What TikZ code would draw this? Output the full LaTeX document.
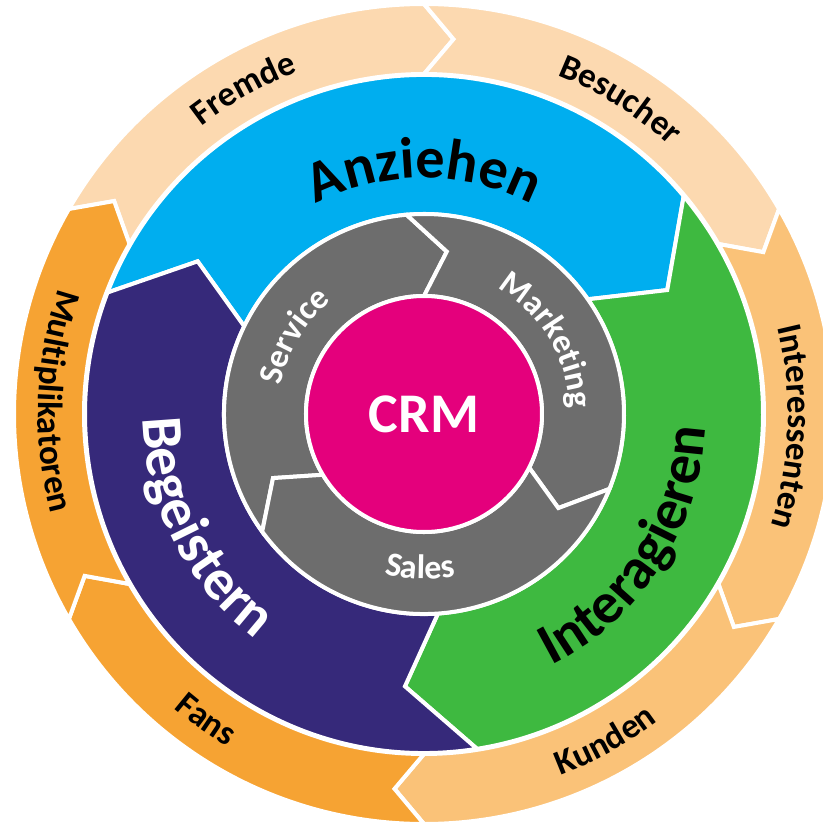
\documentclass[tikz,border=0pt]{standalone}
\usepackage{fontspec}
\setmainfont{Carlito}
\usetikzlibrary{decorations.text}
\definecolor{peachlight}{RGB}{252,217,176}
\definecolor{peachmid}{RGB}{250,194,120}
\definecolor{peachdark}{RGB}{246,163,51}
\definecolor{crmblue}{RGB}{0,174,239}
\definecolor{crmgreen}{RGB}{62,185,64}
\definecolor{crmpurple}{RGB}{54,41,122}
\definecolor{crmgray}{RGB}{109,109,109}
\definecolor{crmmagenta}{RGB}{228,0,124}
\newcommand{\outerfont}{\fontsize{35}{40}\selectfont\bfseries}
\newcommand{\midfont}{\fontsize{58}{64}\selectfont\bfseries}
\newcommand{\grayfont}{\fontsize{34}{40}\selectfont\bfseries}
% colour, start, end, inner r, outer r, tip r, tip offset, outer offset
\newcommand{\ringpart}[8]{%
  \filldraw[segline, fill=#1] (#2:#4) -- (#2-#7:#6) -- (#2+#8:#5)
    arc[start angle=#2+#8, end angle=#3+#8, radius=#5]
    -- (#3-#7:#6) -- (#3:#4)
    arc[start angle=#3, end angle=#2, radius=#4] -- cycle;}
\tikzset{segline/.style={draw=white, line width=4pt, line join=miter}}
\tikzset{ringtext/.style={decorate, decoration={text along path, text align=center, text color=#1}}}

\begin{document}
\begin{tikzpicture}[x=1pt, y=1pt]
  \useasboundingbox (-424,-409) rectangle (399,414);

  \ringpart{peachlight}{150}{90}{340}{410}{376}{4.5}{0}
  \ringpart{peachlight}{90}{30}{340}{410}{376}{4.5}{0}
  \ringpart{peachmid}{30}{-30}{340}{410}{376}{4.5}{0}
  \ringpart{peachmid}{-30}{-90}{340}{410}{376}{4.5}{0}
  \ringpart{peachdark}{-90}{-150}{340}{410}{376}{4.5}{0}
  \ringpart{peachdark}{-150}{-210}{340}{410}{376}{4.5}{0}

  \ringpart{crmblue}{154}{35}{200}{339}{273}{8}{5}
  \ringpart{crmgreen}{35}{-86}{200}{339}{273}{8}{5}
  \ringpart{crmpurple}{-86}{-206}{200}{339}{273}{8}{5}

  \ringpart{crmgray}{211}{90}{118}{200}{164}{8}{5}
  \ringpart{crmgray}{90}{-27}{118}{200}{164}{8}{5}
  \ringpart{crmgray}{-27}{-149}{118}{200}{164}{8}{5}

  \node[circle, minimum size=236pt, fill=crmmagenta, draw=white, line width=4pt,
        text=white, font=\fontsize{56}{60}\selectfont\bfseries] (crm) at (0,0) {CRM};

  \path[ringtext=black, decoration={text={|\outerfont|Fremde}}] (179:364) arc[start angle=179, end angle=59, radius=364];
  \path[ringtext=black, decoration={text={|\outerfont|Besucher}}] (118:364) arc[start angle=118, end angle=-2, radius=364];
  \path[ringtext=black, decoration={text={|\outerfont|Interessenten}}] (58:364) arc[start angle=58, end angle=-62, radius=364];
  \path[ringtext=black, decoration={text={|\outerfont|Kunden}}] (-121:386) arc[start angle=-121, end angle=-1, radius=386];
  \path[ringtext=black, decoration={text={|\outerfont|Fans}}] (174.5:386) arc[start angle=174.5, end angle=294.5, radius=386];
  \path[ringtext=black, decoration={text={|\outerfont|Multiplikatoren}}] (118:386) arc[start angle=118, end angle=238, radius=386];

  \path[ringtext=black, decoration={text={|\midfont|Anziehen}}] (150:236) arc[start angle=150, end angle=30, radius=236];
  \path[ringtext=white, decoration={text={|\midfont|Begeistern}}] (147:281) arc[start angle=147, end angle=267, radius=281];
  \path[ringtext=black, decoration={text={|\midfont|Interagieren}}] (-93:282) arc[start angle=-93, end angle=27, radius=282];

  \path[ringtext=white, decoration={text={|\grayfont|Service}}] (209:146) arc[start angle=209, end angle=89, radius=146];
  \path[ringtext=white, decoration={text={|\grayfont|Marketing}}] (91:146) arc[start angle=91, end angle=-29, radius=146];
  \path[ringtext=white, decoration={text={|\grayfont|Sales}}] (-151.5:165) arc[start angle=-151.5, end angle=-31.5, radius=165];
\end{tikzpicture}
\end{document}
